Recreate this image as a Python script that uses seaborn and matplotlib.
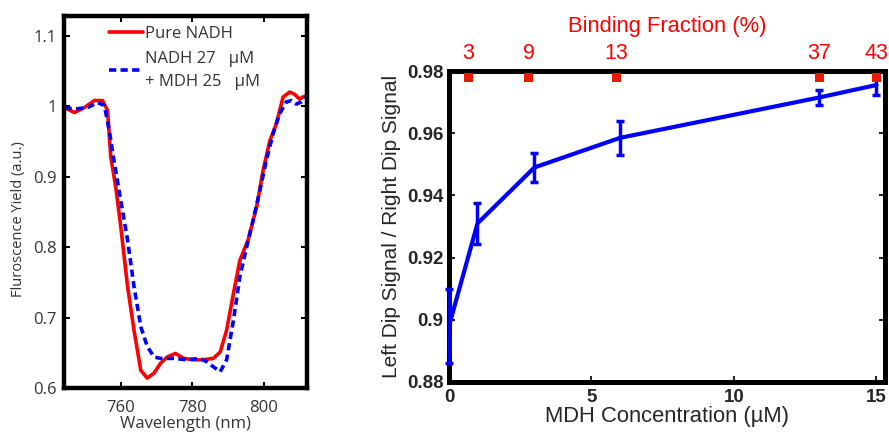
import numpy as np
import pandas as pd
import matplotlib
matplotlib.use("Agg")
import matplotlib.pyplot as plt
import seaborn as sns

# ---------------- data ----------------
# Left panel: spectra
wl_pure = [744.3, 747.0, 749.8, 752.6, 754.9, 756.3, 757.2, 758.6, 760.0, 761.9, 763.7,
           765.6, 767.4, 769.3, 771.1, 773.0, 775.3, 777.6, 780.4, 783.1, 785.9, 787.8,
           789.6, 791.5, 793.3, 795.6, 798.0, 799.8, 801.7, 803.5, 805.4, 807.2, 808.6,
           810.0, 810.9, 811.9]
y_pure = [0.998, 0.991, 0.998, 1.008, 1.008, 0.994, 0.928, 0.885, 0.829, 0.744, 0.682,
          0.625, 0.614, 0.621, 0.635, 0.644, 0.649, 0.642, 0.640, 0.640, 0.642, 0.651,
          0.682, 0.734, 0.781, 0.810, 0.857, 0.909, 0.951, 0.975, 1.013, 1.020, 1.017,
          1.010, 1.013, 1.015]

wl_mdh = [744.3, 747.0, 750.7, 753.5, 755.4, 756.8, 758.1, 760.0, 761.9, 763.7, 765.6,
          767.4, 769.3, 771.1, 774.8, 778.5, 782.2, 784.1, 785.9, 787.8, 789.6, 791.5,
          793.3, 795.2, 797.0, 798.9, 800.7, 802.6, 804.4, 806.3, 807.7, 809.1, 810.5,
          811.9]
y_mdh = [0.998, 0.996, 0.998, 1.005, 1.001, 0.965, 0.923, 0.866, 0.810, 0.744, 0.687,
         0.659, 0.644, 0.642, 0.642, 0.640, 0.642, 0.637, 0.630, 0.623, 0.640, 0.696,
         0.758, 0.800, 0.838, 0.880, 0.923, 0.961, 0.989, 1.006, 1.008, 1.003, 1.006,
         1.013]

# Right panel: ratio vs MDH concentration
mdh_conc = [0, 1, 3, 6, 13, 15]
ratio = [0.898, 0.931, 0.949, 0.9585, 0.9715, 0.9755]
ratio_err = [0.012, 0.0067, 0.0046, 0.0055, 0.0024, 0.0032]

# Binding fraction (top axis)
bind_pos = [0.68, 2.79, 5.88, 13.0, 15.0]
bind_labels = ["3", "9", "13", "37", "43"]
bind_marker_y = [0.978, 0.978, 0.978, 0.978, 0.978]

# ---------------- style ----------------
sns.set_style("ticks")
plt.rcParams["font.family"] = ["Open Sans", "DejaVu Sans"]
arial = ["Liberation Sans", "DejaVu Sans"]

fig = plt.figure(figsize=(8.89, 4.33), dpi=100)

# ---------- Left panel ----------
axL = fig.add_axes([0.0715, 0.104, 0.2735, 0.859])
df_pure = pd.DataFrame({"wl": wl_pure, "y": y_pure})
df_mdh = pd.DataFrame({"wl": wl_mdh, "y": y_mdh})
sns.lineplot(data=df_pure, x="wl", y="y", ax=axL, color="#ff0000", lw=2.6,
             label="Pure NADH", sort=False)
sns.lineplot(data=df_mdh, x="wl", y="y", ax=axL, color="#0000ff", lw=2.6,
             label="NADH 27   \u00b5M\n+ MDH 25   \u00b5M", sort=False)
axL.lines[1].set_dashes([2.0, 1.2])
axL.set_xlim(744, 812)
axL.set_ylim(0.6, 1.128)
axL.set_xticks([760, 780, 800])
axL.set_yticks([0.6, 0.7, 0.8, 0.9, 1.0, 1.1])
axL.set_yticklabels(["0.6", "0.7", "0.8", "0.9", "1", "1.1"])
txt_c = "#333333"
axL.tick_params(direction="in", length=4, width=1.5, top=True, right=True,
                labelsize=12, colors="black", labelcolor=txt_c, pad=5)
axL.tick_params(axis="x", pad=9)
axL.set_xlabel("Wavelength (nm)", fontsize=12, color=txt_c, labelpad=0)
axL.set_ylabel("Fluroscence Yield (a.u.)", fontsize=10.5, color=txt_c)
axL.yaxis.set_label_coords(-0.155, 0.455)
for s in axL.spines.values():
    s.set_linewidth(3.2)
    s.set_color("black")
leg = axL.legend(loc="upper left", bbox_to_anchor=(0.14, 1.005), frameon=False,
                 fontsize=12, handlelength=2.0, handletextpad=0.15,
                 labelspacing=0.55, borderaxespad=0.3)
for t in leg.get_texts():
    t.set_color(txt_c)
    t.set_linespacing(1.55)

# ---------- Right panel ----------
axR = fig.add_axes([449 / 889, 1 - 382 / 433, 436 / 889, 311 / 433])
df_r = pd.DataFrame({"x": mdh_conc, "y": ratio})
sns.lineplot(data=df_r, x="x", y="y", ax=axR, color="#0000ff", lw=3, sort=False,
             zorder=3)
axR.errorbar(mdh_conc, ratio, yerr=ratio_err, fmt="none", ecolor="#0000ff",
             elinewidth=2.5, capsize=3, capthick=2.5, clip_on=False, zorder=3)
df_b = pd.DataFrame({"x": bind_pos, "y": bind_marker_y})
sns.scatterplot(data=df_b, x="x", y="y", ax=axR, marker="s", s=45,
                color="#e81a00", edgecolor="none", zorder=5, clip_on=False)
axR.set_xlim(0, 15.3)
axR.set_ylim(0.88, 0.98)
axR.set_xticks([0, 5, 10, 15])
axR.set_yticks([0.88, 0.9, 0.92, 0.94, 0.96, 0.98])
axR.set_yticklabels(["0.88", "0.9", "0.92", "0.94", "0.96", "0.98"])
axR.tick_params(direction="in", length=4, width=1.5, top=True, right=True,
                labelsize=13.5, pad=4)
axR.tick_params(axis="x", pad=5)
for lab in axR.get_xticklabels() + axR.get_yticklabels():
    lab.set_fontweight("bold")
    lab.set_family(arial)
axR.set_xlabel("MDH Concentration (\u00b5M)", fontsize=15.8, family=arial, labelpad=0)
axR.set_ylabel("Left Dip Signal / Right Dip Signal", fontsize=15, family=arial,
               labelpad=4)
for s in axR.spines.values():
    s.set_linewidth(3.6)
    s.set_color("black")

axT = axR.twiny()
axT.set_xlim(axR.get_xlim())
axT.set_xticks(bind_pos)
axT.set_xticklabels(bind_labels)
axT.tick_params(length=0, labelsize=15.5, labelcolor="#ff0000", pad=5)
for lab in axT.get_xticklabels():
    lab.set_family(arial)
axT.set_xlabel("Binding Fraction (%)", fontsize=15.8, color="#ff0000",
               family=arial, labelpad=8)
for s in axT.spines.values():
    s.set_visible(False)

fig.savefig("out.png", dpi=100)
